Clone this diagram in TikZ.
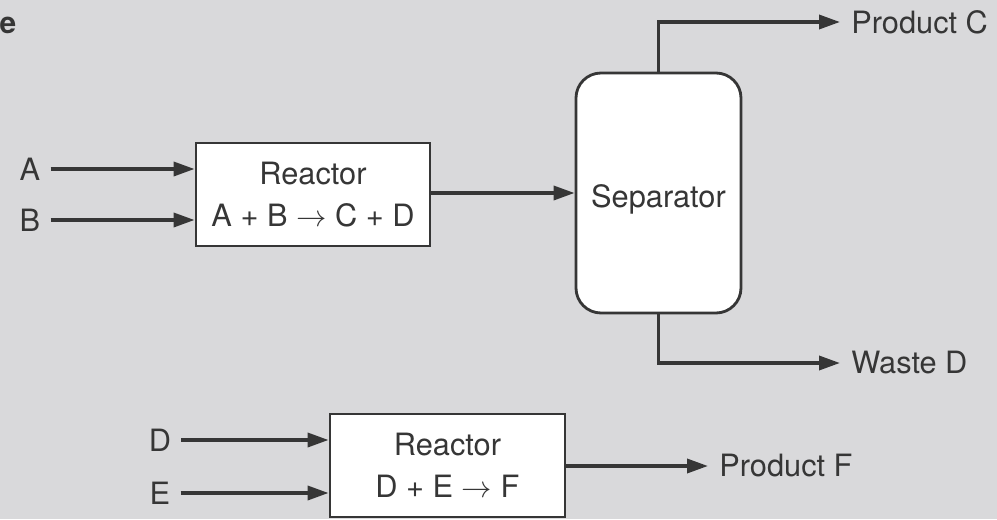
\documentclass[tikz,border=0pt]{standalone}
\usepackage{fontspec}
\setmainfont{TeX Gyre Heros}
\usetikzlibrary{arrows.meta,positioning,calc}
\definecolor{bg}{HTML}{D9D9DB}
\definecolor{ink}{HTML}{363636}
\tikzset{
  every node/.style={text=ink, font=\fontsize{17.5}{22}\selectfont},
  proc/.style={draw=ink, line width=1.6pt, fill=white, minimum width=4.68cm, minimum height=2.06cm, align=center, inner sep=0pt},
  sepbox/.style={draw=ink, line width=1.6pt, fill=white, rounded corners=0.5cm, minimum width=3.30cm, minimum height=4.80cm, inner sep=0pt},
  arr/.style={draw=ink, line width=2pt, -{Triangle[length=0.42cm,width=0.28cm]}},
  inlbl/.style={inner sep=0.2cm},
  outlbl/.style={anchor=west, inner sep=0.22cm},
}
\begin{document}
\begin{tikzpicture}
\fill[bg] (0,0) rectangle (19.94,10.38);
\useasboundingbox (0,0) rectangle (19.94,10.38);
% corner fragment
\node[font=\bfseries\fontsize{17}{20}\selectfont, inner sep=0pt] (frag) at (0.16,9.88) {e};
% blocks
\node[proc] (r1) at (6.26,6.49) {Reactor\\[2pt]A + B $\rightarrow$ C + D};
\node[sepbox] (sep) at (13.17,6.52) {};
\node (septext) at (13.17,6.40) {Separator};
\node[proc, minimum width=4.70cm] (r2) at (8.95,1.07) {Reactor\\[2pt]D + E $\rightarrow$ F};
% input labels
\node[inlbl] (la) at (0.60,7.00) {A};
\node[inlbl] (lb) at (0.60,5.98) {B};
\node[inlbl] (ld) at (3.20,1.58) {D};
\node[inlbl] (le) at (3.20,0.52) {E};
% output labels
\node[outlbl] (pc) at (16.80,9.94) {Product C};
\node[outlbl] (wd) at (16.80,3.12) {Waste D};
\node[outlbl] (pf) at (14.16,1.06) {Product F};
% connectors
\draw[arr] (la) -- (la -| r1.west);
\draw[arr] (lb) -- (lb -| r1.west);
\draw[arr] (r1.east |- 0,6.52) -- (sep.west |- 0,6.52);
\draw[arr] (sep.north) |- (pc.west);
\draw[arr] (sep.south) |- (wd.west);
\draw[arr] (ld) -- (ld -| r2.west);
\draw[arr] (le) -- (le -| r2.west);
\draw[arr] (r2.east |- pf.west) -- (pf.west);
\end{tikzpicture}
\end{document}
